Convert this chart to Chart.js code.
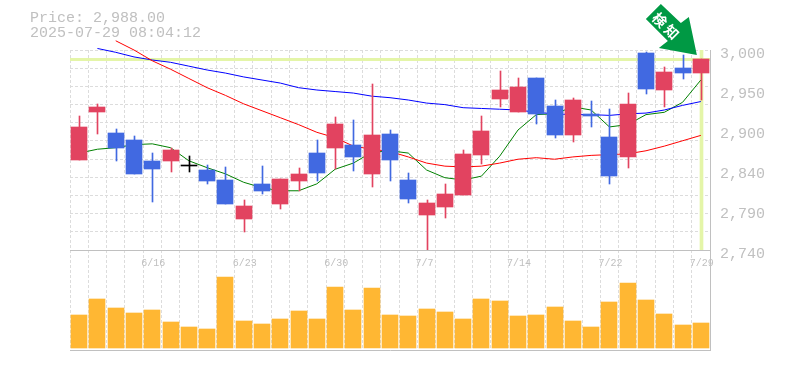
<!DOCTYPE html>
<html>
<head>
<meta charset="utf-8">
<title>Price chart</title>
<script src="https://cdn.jsdelivr.net/npm/chart.js@4"></script>
<style>
  html, body { margin: 0; padding: 0; background: #fff; overflow: hidden; }
  #wrap { position: relative; width: 785px; height: 370px; }
  #info {
    position: absolute; left: 30px; top: 11px;
    font: 15px/15px "Liberation Mono", monospace; color: #c0c0c0; white-space: pre;
  }
</style>
</head>
<body>
<div id="wrap">
  <div id="info">Price: 2,988.00
2025-07-29 08:04:12</div>
  <canvas id="priceChart" width="785" height="370"></canvas>
</div>
<script>
// Session index per candle, only some of them carry a date label
const categories = Array.from({ length: 35 }, (_, i) => i);
const dateLabels = { 4: "6/16", 9: "6/23", 14: "6/30", 19: "7/7", 24: "7/14", 29: "7/22", 34: "7/29" };

// Candles, red when close is above open
const opens = [2857, 2919, 2892, 2883, 2856, 2856, 2850, 2844, 2831, 2780, 2826, 2800, 2830, 2866, 2873, 2877, 2839, 2891, 2831, 2786, 2796, 2811, 2864, 2936, 2919, 2964, 2927, 2890, 2917, 2887, 2861, 2996, 2948, 2977, 2970];
const closes = [2900, 2926, 2873, 2839, 2845, 2870, 2851, 2830, 2800, 2797, 2817, 2832, 2839, 2840, 2904, 2861, 2890, 2857, 2806, 2801, 2813, 2865, 2895, 2948, 2952, 2917, 2890, 2935, 2914, 2836, 2930, 2949, 2971, 2970, 2988];
const highs = [2914, 2930, 2897, 2888, 2866, 2873, 2862, 2850, 2848, 2805, 2849, 2832, 2847, 2883, 2913, 2909, 2956, 2896, 2840, 2805, 2826, 2870, 2914, 2973, 2964, 2964, 2935, 2938, 2934, 2923, 2944, 2997, 2978, 2993, 2988];
const lows = [2857, 2891, 2856, 2839, 2802, 2841, 2841, 2826, 2800, 2763, 2813, 2793, 2817, 2830, 2845, 2843, 2822, 2830, 2801, 2740, 2782, 2811, 2852, 2926, 2919, 2904, 2886, 2880, 2900, 2826, 2847, 2943, 2926, 2962, 2935];

// Moving averages
const maGreen = [2866, 2871, 2873, 2877, 2878, 2873, 2856, 2847, 2839, 2828, 2821, 2817, 2817, 2826, 2845, 2853, 2867, 2869, 2866, 2844, 2834, 2831, 2836, 2862, 2896, 2916, 2917, 2926, 2922, 2900, 2903, 2916, 2919, 2932, 2961];
const maBlue = [null, 3002, 2997, 2991, 2987, 2984, 2979, 2974, 2970, 2965, 2961, 2957, 2951, 2948, 2946, 2944, 2940, 2938, 2935, 2931, 2929, 2925, 2924, 2923, 2922, 2919, 2917, 2916, 2916, 2915, 2917, 2918, 2922, 2928, 2933];
const maRed = [null, null, 3012, 3000, 2986, 2975, 2963, 2951, 2941, 2930, 2921, 2912, 2903, 2893, 2886, 2875, 2871, 2868, 2861, 2853, 2849, 2848, 2849, 2853, 2858, 2860, 2858, 2861, 2863, 2864, 2865, 2869, 2875, 2882, 2889];

// Volume
const volumes = [330, 490, 400, 350, 380, 260, 210, 190, 710, 270, 240, 290, 370, 290, 610, 380, 600, 330, 320, 390, 360, 290, 490, 470, 320, 330, 410, 270, 210, 460, 650, 480, 340, 230, 250];

// Price axis
const priceMin = 2740;
const priceMax = 3000;
const lastPrice = 2988;
const labelTicks = [3000, 2948, 2896, 2844, 2792, 2740]; // printed rounded to tens
const gridStep = (priceMax - priceMin) / 11;
const gridTicks = Array.from({ length: 12 }, (_, i) => priceMax - i * gridStep);

const RED = "#e24360";
const BLUE = "#4169e1";
const GRID = "#dcdcdc";
const AXIS = "#c0c0c0";
const LIME = "#e4f5a8";
const ARROW = "#009944";

function isDoji(i) {
  return Math.abs(closes[i] - opens[i]) <= 1;
}

function candleColor(ctx) {
  const i = ctx.dataIndex;
  if (isDoji(i)) return "#000";
  return closes[i] > opens[i] ? RED : BLUE;
}

// Snap the bars to whole pixels, the reference has no soft edges
const crispBars = {
  id: "crispBars",
  afterDatasetsUpdate(chart) {
    chart.data.datasets.forEach((ds, idx) => {
      if (ds.type !== "bar") return;
      chart.getDatasetMeta(idx).data.forEach(el => {
        el.x = Math.round(el.x) + (ds.barThickness % 2 ? 0.5 : 0);
        el.y = Math.round(el.y);
        el.base = Math.round(el.base);
        if (el.base === el.y) el.base = el.y + 1; // doji still needs a visible bar
      });
    });
  }
};

// Green arrow pointing at the last candle
const signalArrow = {
  id: "signalArrow",
  afterDraw(chart) {
    const { ctx, scales } = chart;
    const tipX = scales.x.getPixelForValue(categories.length - 1) - 4;
    const tipY = scales.y.getPixelForValue(priceMax) + 5;
    const outline = [[0, 0], [-38, -7], [-29, -14], [-51, -36], [-36, -51], [-16, -32], [-8, -38]];

    ctx.save();
    ctx.fillStyle = ARROW;
    ctx.beginPath();
    outline.forEach(([dx, dy], i) => {
      if (i === 0) ctx.moveTo(tipX + dx, tipY + dy);
      else ctx.lineTo(tipX + dx, tipY + dy);
    });
    ctx.closePath();
    ctx.fill();

    ctx.translate(tipX - 30, tipY - 28);
    ctx.rotate(Math.PI / 4);
    ctx.fillStyle = "#fff";
    ctx.font = 'bold 14px "Noto Sans CJK JP"';
    ctx.letterSpacing = "3px";
    ctx.textAlign = "center";
    ctx.textBaseline = "middle";
    ctx.fillText("検知", 0, 0);
    ctx.restore();
  }
};

const lineDataset = (data, color) => ({
  type: "line",
  data,
  yAxisID: "y",
  borderColor: color,
  borderWidth: 1,
  pointRadius: 0,
  tension: 0,
  spanGaps: false,
  clip: false,
  order: 5
});

const chartCtx = document.getElementById("priceChart").getContext("2d");
new Chart(chartCtx, {
  data: {
    labels: categories,
    datasets: [
      // Vertical marker of the last session
      {
        type: "bar",
        data: categories.map(i => (i === categories.length - 1 ? [priceMin, priceMax] : null)),
        yAxisID: "y",
        backgroundColor: LIME,
        barThickness: 3,
        grouped: false,
        order: 9
      },
      lineDataset(maRed, "#ff0000"),
      lineDataset(maBlue, "#0000ff"),
      lineDataset(maGreen, "#008000"),
      // Wicks
      {
        type: "bar",
        data: categories.map(i => [lows[i], highs[i]]),
        yAxisID: "y",
        backgroundColor: candleColor,
        barThickness: 1,
        grouped: false,
        order: 2
      },
      // Bodies
      {
        type: "bar",
        data: categories.map(i => [opens[i], closes[i]]),
        yAxisID: "y",
        backgroundColor: candleColor,
        barThickness: 16,
        grouped: false,
        order: 1
      },
      // Volume
      {
        type: "bar",
        data: volumes,
        yAxisID: "yVol",
        backgroundColor: "#ffb733",
        barThickness: 16,
        grouped: false,
        order: 3
      }
    ]
  },
  options: {
    responsive: false,
    animation: false,
    events: [],
    layout: { padding: { left: 70, top: 50, bottom: 20, right: 0 } },
    plugins: { legend: { display: false }, tooltip: { enabled: false } },
    scales: {
      x: {
        type: "category",
        axis: "x",
        position: { y: priceMin },
        offset: true,
        border: { display: true, color: AXIS, dash: [3, 2] },
        grid: {
          display: true,
          color: GRID,
          drawTicks: false,
          offset: true
        },
        ticks: {
          autoSkip: false,
          maxRotation: 0,
          minRotation: 0,
          align: "start",
          labelOffset: -11,
          padding: 7,
          color: AXIS,
          font: { family: '"Liberation Mono", monospace', size: 10 },
          callback: value => dateLabels[value] || ""
        }
      },
      x2: {
        type: "category",
        axis: "x",
        position: "bottom",
        labels: categories,
        offset: true,
        border: { display: true, color: AXIS },
        grid: { display: false, drawTicks: false },
        ticks: { display: false },
        afterFit(scale) { scale.height = 0; }
      },
      y: {
        axis: "y",
        position: "right",
        stack: "panes",
        stackWeight: 2,
        weight: 1,
        min: priceMin,
        max: priceMax,
        border: { display: true, color: AXIS, dash: ctx => (ctx.tick && ctx.tick.value === lastPrice ? [] : [3, 2]) },
        grid: {
          drawTicks: false,
          color: ctx => {
            const v = ctx.tick.value;
            if (v === lastPrice) return LIME;
            return gridTicks.includes(v) ? GRID : "rgba(0,0,0,0)";
          },
          lineWidth: ctx => (ctx.tick.value === lastPrice ? 3 : 1)
        },
        afterBuildTicks(scale) {
          const values = [...gridTicks, ...labelTicks.slice(1, -1), lastPrice];
          scale.ticks = values.map(value => ({ value }));
        },
        afterFit(scale) { scale.width = 75; },
        ticks: {
          autoSkip: false,
          padding: 10,
          labelOffset: 4,
          color: AXIS,
          font: { family: '"Liberation Mono", monospace', size: 15 },
          callback: value => (labelTicks.includes(value) ? (Math.round(value / 10) * 10).toLocaleString("en-US") : "")
        }
      },
      yVol: {
        axis: "y",
        position: "right",
        stack: "panes",
        stackWeight: 1,
        weight: 2,
        min: -20,
        max: 980,
        border: { display: true, color: AXIS },
        grid: { display: false, drawTicks: false },
        ticks: { display: false },
        afterFit(scale) { scale.width = 75; }
      }
    }
  },
  plugins: [crispBars, signalArrow]
});
</script>
</body>
</html>
